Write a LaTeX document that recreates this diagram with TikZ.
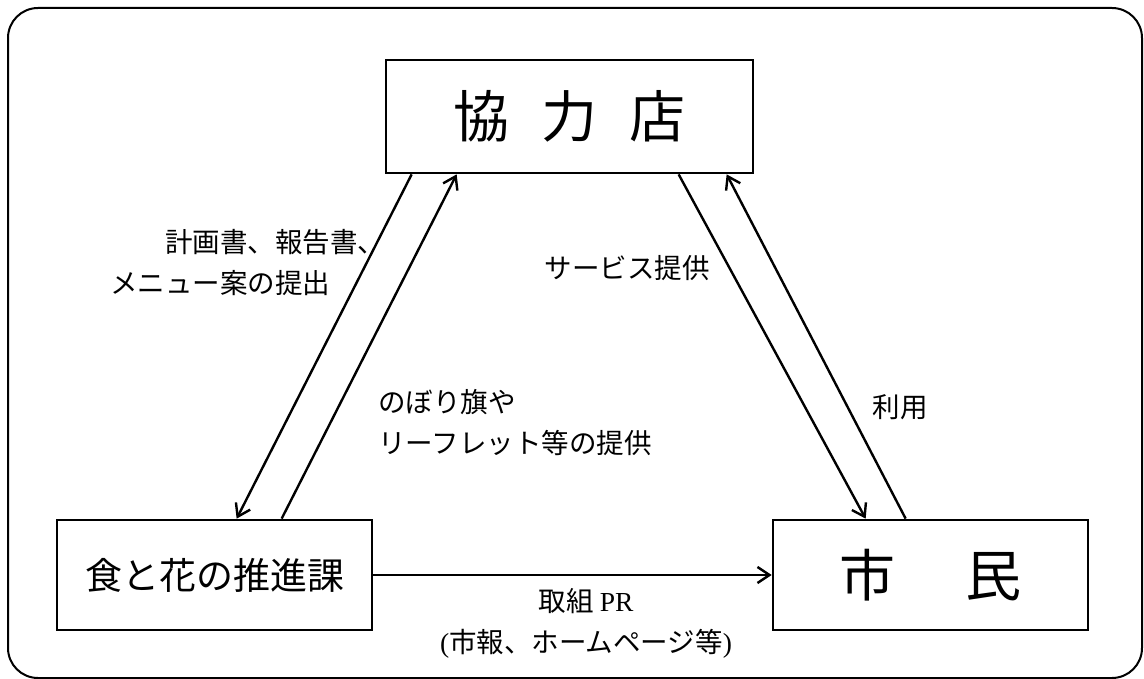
\documentclass[tikz,border=0pt]{standalone}
\usepackage{fontspec}
\setmainfont{Noto Sans CJK JP}
\newfontfamily\lat{Liberation Serif}
\usetikzlibrary{arrows.meta, calc}
\newcommand{\lblfont}{\fontsize{27.5}{41}\selectfont}
\tikzset{
    box/.style={draw, line width=2.7pt, inner sep=0pt},
    lbl/.style={inner sep=0pt, font=\lblfont},
    flow/.style={line width=2.4pt, -{Straight Barb[length=12pt, width=16pt, line width=2.4pt]}}
}

\begin{document}
\begin{tikzpicture}[x=1pt, y=-1pt]
            \useasboundingbox (0,0) rectangle (1144,679);
            \draw[line width=2pt, rounded corners=30pt] (8,8) rectangle (1142,678);

            \node[box, minimum width=367pt, minimum height=113pt, font=\fontsize{56}{60}\selectfont] (shop) at (569.5,116.5) {協\hspace{0.57em}力\hspace{0.57em}店};
            \node[box, minimum width=315pt, minimum height=110pt, font=\fontsize{37}{40}\selectfont] (dept) at (214.5,575) {食と花の推進課};
            \node[box, minimum width=315pt, minimum height=110pt, font=\fontsize{56}{60}\selectfont] (citizen) at (930.5,575) {市\hspace{1.25em}民};

            \coordinate (S1) at ([xshift=27pt]shop.south west);
            \coordinate (S2) at ([xshift=72pt]shop.south west);
            \coordinate (S3) at ([xshift=294pt]shop.south west);
            \coordinate (S4) at ([xshift=342pt]shop.south west);
            \coordinate (D1) at ([xshift=181pt]dept.north west);
            \coordinate (D2) at ([xshift=226pt]dept.north west);
            \coordinate (C1) at ([xshift=94pt]citizen.north west);
            \coordinate (C2) at ([xshift=134pt]citizen.north west);

            \draw[flow] (S1) -- (D1);
            \draw[flow] (D2) -- (S2);
            \draw[flow] (S3) -- (C1);
            \draw[flow] (C2) -- (S4);
            \draw[flow] (dept) -- (citizen);

            \node[lbl, anchor=west, align=left] (plan) at (110,262.5) {\hspace*{2em}計画書、報告書、\\メニュー案の提出};
            \node[lbl] (service) at (627,268) {サービス提供};
            \node[lbl, anchor=west, align=left] (flag) at (378,423) {のぼり旗や\\リーフレット等の提供};
            \node[lbl] (use) at (900,407) {利用};
            \node[lbl, align=center] (pr) at (586,623) {取組 {\lat PR}\\{\lat (}市報、ホームページ等{\lat )}};

        \end{tikzpicture}
\end{document}
